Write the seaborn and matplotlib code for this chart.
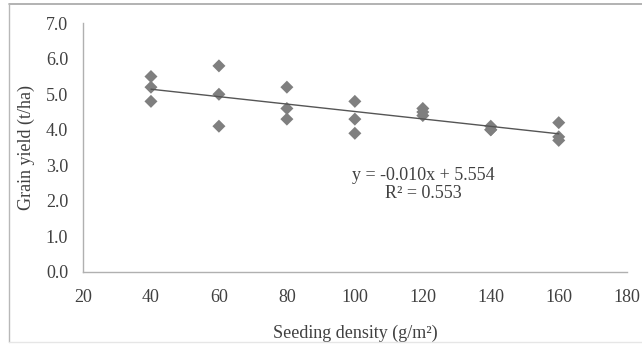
import numpy as np
import pandas as pd
import matplotlib
matplotlib.use("Agg")
import matplotlib.pyplot as plt
from matplotlib.lines import Line2D
import seaborn as sns

# seeding density (g/m2) and grain yield (t/ha)
density = [40, 40, 40, 60, 60, 60, 80, 80, 80, 100, 100, 100,
           120, 120, 120, 140, 140, 140, 160, 160, 160]
grain_yield = [5.5, 5.2, 4.8, 5.8, 5.0, 4.1, 5.2, 4.6, 4.3, 4.8, 4.3, 3.9,
               4.6, 4.5, 4.4, 4.1, 4.0, 4.0, 4.2, 3.8, 3.7]
equation = "y = -0.010x + 5.554"
r_squared = "R² = 0.553"

df = pd.DataFrame({"density": density, "yield": grain_yield})

sns.set_style("white")
plt.rcParams["font.family"] = ["Liberation Serif", "DejaVu Serif"]

fig = plt.figure(figsize=(6.42, 3.44), dpi=100)
W, H = 642.0, 344.0
# chart frame (the left/top/bottom edges only, like the original)
fig.add_artist(Line2D([9 / W, 1.0], [1 - 4 / H, 1 - 4 / H], transform=fig.transFigure,
                      color="#a6a6a6", lw=1.2))
fig.add_artist(Line2D([9 / W, 9 / W], [1 - 4 / H, 1 - 342 / H], transform=fig.transFigure,
                      color="#b8b8b8", lw=1.0))
fig.add_artist(Line2D([9 / W, 1.0], [1 - 342 / H, 1 - 342 / H], transform=fig.transFigure,
                      color="#e6e6e6", lw=1.0))

ax = fig.add_axes([83 / W, 72.3 / H, (626.7 - 83) / W, (271.7 - 23.3) / H])

sns.regplot(data=df, x="density", y="yield", ci=None, ax=ax,
            marker="D",
            scatter_kws={"s": 44, "color": "#7f7f7f", "edgecolor": "none", "alpha": 1},
            line_kws={"color": "#555555", "lw": 1.0})

ax.set_xlim(20, 180)
ax.set_ylim(0, 7)
ax.set_xticks(np.arange(20, 181, 20))
ax.set_yticks(np.arange(0, 7.1, 1))
ax.set_yticklabels([f"{v:.1f}" for v in np.arange(0, 7.1, 1)])

for s in ["top", "right"]:
    ax.spines[s].set_visible(False)
for s in ["left", "bottom"]:
    ax.spines[s].set_color("#b0b0b0")
    ax.spines[s].set_linewidth(1.0)

ax.tick_params(axis="both", direction="out", length=3.6, width=1, color="#b0b0b0",
               labelsize=13, labelcolor="#404040")
ax.tick_params(axis="y", pad=7)
ax.tick_params(axis="x", pad=9)

ax.set_xlabel("Seeding density (g/m²)", fontsize=13, color="#404040", labelpad=13)
ax.set_ylabel("Grain yield (t/ha)", fontsize=13, color="#404040", labelpad=8)

ax.text(120.2, 2.72, equation, ha="center", va="center", fontsize=13, color="#404040")
ax.text(120.2, 2.19, r_squared, ha="center", va="center", fontsize=13, color="#404040")

fig.savefig("out.png", dpi=100)
